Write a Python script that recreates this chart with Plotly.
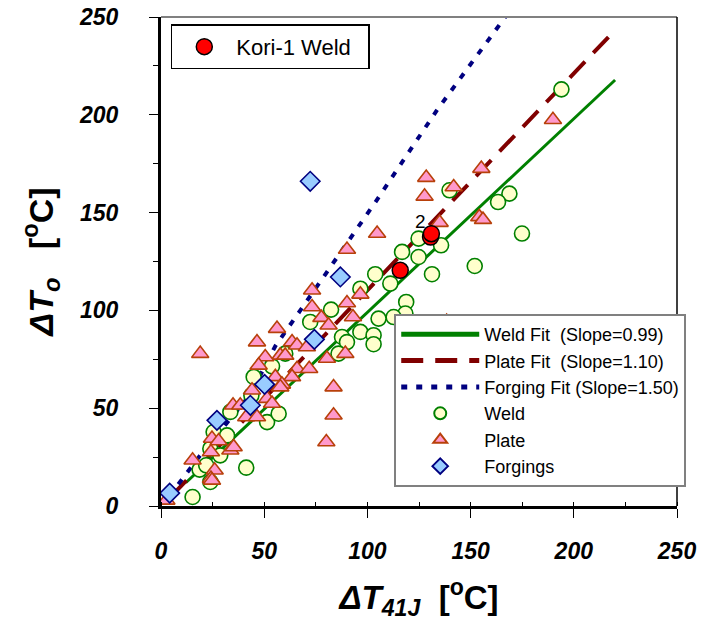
import plotly.graph_objects as go

# ---------------- data ----------------
weld_x = [194, 168.8, 163.3, 174.9, 139.8, 135.7, 124.8, 124.8, 152, 116.8, 131.3, 103.8, 111.1,
          96.6, 118.8, 118.4, 112.7, 105.4, 82.4, 72.3, 96.6, 87.7, 103, 90.1, 103, 86, 60.2,
          44.9, 53.8, 51.4, 57, 33.6, 25.5, 32, 23.9, 28.7, 18.7, 21.9, 23.9, 41.3, 15.3, 43.8]
weld_y = [213, 159.7, 155.4, 139.3, 161.4, 133.3, 136.7, 127.3, 122.7, 129.9, 118.5, 118.5, 113.7,
          111.1, 104.3, 98.4, 96.6, 95.8, 100.4, 94.1, 89, 86.4, 87.3, 83.8, 82.7, 77.9, 77.9,
          66, 71.4, 42.9, 47.2, 48.1, 37.8, 36.1, 29.3, 25.9, 18.6, 20.8, 12.3, 19.6, 4.6, 56.5]

plate_x = [189.9, 155.2, 128.5, 127.7, 141.8, 135, 154.2, 156, 104.7, 90.1, 73.2, 73.2, 96.6, 90.1,
           93, 77.7, 81.2, 56.2, 46.5, 19, 63.5, 65.9, 70.7, 57.8, 60.2, 50.5, 80.4, 89.3, 47.3,
           65.9, 71.8, 55.4, 63.5, 83.6, 58.6, 44.1, 83.6, 80.1, 51.4, 34.9, 38.4, 41.3, 46.5,
           57.8, 53.8, 24.7, 27.9, 33.6, 35.2, 24.2, 15.3, 26, 24.2, 24.7, 2.6, 138.4]
plate_y = [197.5, 172.5, 167.9, 158.3, 163.1, 144.9, 147.8, 146.4, 139.3, 131.1, 110.3, 101.7, 108.2,
           103.8, 96.6, 96.3, 92.4, 90.7, 83.8, 77.9, 83.8, 82.2, 81.3, 77, 77, 76.2, 75.4, 77.9,
           71.9, 70.2, 70.2, 66, 66, 60.8, 62.2, 59.2, 46.4, 32.7, 54.9, 51.5, 51.5, 45.5, 45.5,
           60.8, 52.4, 34.5, 33.2, 28.5, 30.2, 27.6, 23.4, 18.3, 14, 13.1, 2.9, 94.3]

forg_x = [4.2, 27.1, 43.3, 50.2, 74.3, 86.9, 72.3]
forg_y = [6.6, 43.8, 51.5, 62.2, 85.2, 117.1, 166.0]

kori_x = [115.9, 130.6, 131.0]
kori_y = [120.5, 137.5, 139.2]
kori_label_x = [125.6]
kori_label_y = [144.7]
kori_label_text = ["2"]

weld_fit_x = [12, 220]
weld_fit_y = [11.9, 217.8]
plate_fit_x = [5, 217]
plate_fit_y = [5, 240]
forg_fit_x = [4, 12.6, 19, 43.3, 55.4, 67.5, 103.9, 133.7, 166.8]
forg_fit_y = [5, 16.6, 25.9, 57, 81.8, 100, 155.4, 202.4, 250]

x_ticks = [0, 50, 100, 150, 200, 250]
y_ticks = [0, 50, 100, 150, 200, 250]

FONT = "Liberation Sans, Arial, sans-serif"

fig = go.Figure()

fig.add_trace(go.Scatter(
    x=weld_fit_x, y=weld_fit_y, mode="lines", name="Weld Fit  (Slope=0.99)",
    line=dict(color="#008000", width=3), legend="legend"))
fig.add_trace(go.Scatter(
    x=plate_fit_x, y=plate_fit_y, mode="lines", name="Plate Fit  (Slope=1.10)",
    line=dict(color="#800000", width=4, dash="22px,12px"), legend="legend"))
fig.add_trace(go.Scatter(
    x=forg_fit_x, y=forg_fit_y, mode="lines", name="Forging Fit (Slope=1.50)",
    line=dict(color="#000080", width=4, dash="6px,9px"), legend="legend"))

fig.add_trace(go.Scatter(
    x=weld_x, y=weld_y, mode="markers", name="Weld",
    marker=dict(symbol="circle", size=15, color="#FFFFCC", line=dict(color="#008000", width=1.6)),
    legend="legend"))
fig.add_trace(go.Scatter(
    x=plate_x, y=plate_y, mode="markers", name="Plate",
    marker=dict(symbol="triangle-up", size=15, color="#FF99CC", line=dict(color="#B8400A", width=1.6)),
    legend="legend"))
fig.add_trace(go.Scatter(
    x=forg_x, y=forg_y, mode="markers", name="Forgings",
    marker=dict(symbol="diamond", size=15, color="#99CCFF", line=dict(color="#000080", width=1.6)),
    legend="legend"))

fig.add_trace(go.Scatter(
    x=kori_x, y=kori_y, mode="markers", name="Kori-1 Weld\u00a0\u00a0",
    marker=dict(symbol="circle", size=16, color="#FF0000", line=dict(color="#000000", width=1.5)),
    legend="legend2"))

fig.add_trace(go.Scatter(
    x=kori_label_x, y=kori_label_y, mode="text", text=kori_label_text, showlegend=False,
    textfont=dict(family=FONT, size=19, color="#000000")))

fig.update_layout(
    width=711, height=632,
    margin=dict(l=161, r=34, t=17, b=126),
    paper_bgcolor="white", plot_bgcolor="white",
    font=dict(family=FONT, color="black"),
    legend=dict(
        x=0.452, y=0.039, xanchor="left", yanchor="bottom",
        bgcolor="white", bordercolor="#808080", borderwidth=2,
        font=dict(family=FONT, size=18, color="black"),
        tracegroupgap=0, itemsizing="constant", itemwidth=78),
    legend2=dict(
        x=0.019, y=0.985, xanchor="left", yanchor="top",
        bgcolor="white", bordercolor="#000000", borderwidth=1.5,
        itemwidth=54,
        font=dict(family=FONT, size=22, color="black")),
    xaxis=dict(
        range=[0, 250], tickvals=x_ticks, ticktext=[str(v) for v in x_ticks],
        showgrid=False, zeroline=False,
        showline=True, linecolor="black", linewidth=3,
        ticks="outside", ticklen=9, tickwidth=1, tickcolor="black",
        minor=dict(dtick=25, ticks="inside", ticklen=4, tickcolor="black", showgrid=False),
        tickfont=dict(family=FONT, size=23, weight="bold", style="italic", color="black"),
        ticklabelstandoff=13,
        title=dict(text="<b><i>ΔT</i><sub><i>41J</i></sub>  [<sup>o</sup>C]</b>",
                   font=dict(family=FONT, size=33, color="black"), standoff=24),
        automargin=False),
    yaxis=dict(
        range=[0, 250], tickvals=y_ticks, ticktext=[str(v) for v in y_ticks],
        showgrid=False, zeroline=False,
        showline=True, linecolor="black", linewidth=3,
        ticks="outside", ticklen=9, tickwidth=1, tickcolor="black",
        minor=dict(dtick=25, ticks="outside", ticklen=5, tickcolor="black", showgrid=False),
        tickfont=dict(family=FONT, size=23, weight="bold", style="italic", color="black"),
        ticklabelstandoff=26,
        title=dict(text="<b><i>ΔT</i><sub><i>o</i></sub>   [<sup>o</sup>C]</b>",
                   font=dict(family=FONT, size=34, color="black"), standoff=16),
        automargin=False),
    shapes=[
        dict(type="line", xref="paper", yref="paper", x0=0, x1=1, y0=1, y1=1,
             line=dict(color="#808080", width=2)),
        dict(type="line", xref="paper", yref="paper", x0=1, x1=1, y0=0, y1=1,
             line=dict(color="#000000", width=1.5)),
    ],
)

fig.write_html("out.html")
